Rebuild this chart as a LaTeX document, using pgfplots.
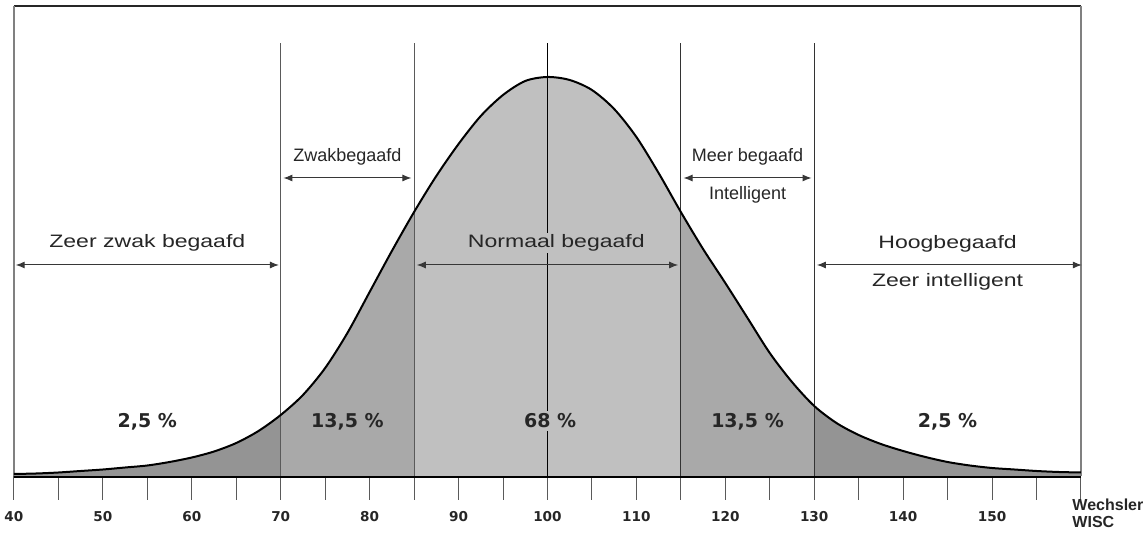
\documentclass[border=0pt]{standalone}
\usepackage{pgfplots}
\pgfplotsset{compat=1.18}
\usepackage{pgfplotstable}
\usepackage{graphicx}
\usetikzlibrary{arrows.meta}
\usepackage{fontspec}
\setmainfont{Liberation Sans}
\newfontfamily\numfont{DejaVu Sans}
\definecolor{tailgray}{RGB}{148,148,148}
\definecolor{midgray}{RGB}{169,169,169}
\definecolor{centergray}{RGB}{192,192,192}
\definecolor{linegray}{RGB}{90,90,90}
\definecolor{arrowgray}{RGB}{55,55,55}

\pgfplotstableread{
x h
40 2
42.5 2.5
45 3.5
47.5 5
50 6.5
52.5 8.5
55 10.5
57.5 14
60 18.5
62.5 24.5
65 33
67.5 45
70 61
72.5 81
75 108
77.5 143
80 184
82.5 225
85 264
87.5 300
90 332
92.5 360
95 381
97.5 395
100 399
102.5 396
105 386
107.5 367
110 339
112.5 303
115 264
117.5 227
120 193
122.5 158
125 123
127.5 94
130 70
132.5 53
135 41
137.5 32
140 25
142.5 19
145 14
147.5 10.5
150 8
152.5 6.5
155 5
157.5 4
160 3.5
}\curve

\begin{document}
\begin{tikzpicture}
\begin{axis}[
  x=4.44583pt, y=0.5pt,
  xmin=40, xmax=160, ymin=0, ymax=470,
  clip=false,
  axis y line=none,
  axis x line*=bottom,
  axis line style={line width=1.6pt, black, -},
  xtick={40,45,...,160},
  xticklabels={40,,50,,60,,70,,80,,90,,100,,110,,120,,130,,140,,150,,},
  tick align=outside,
  major tick length=12pt,
  xtick style={linegray, line width=0.5pt},
  xticklabel style={font=\numfont\bfseries\fontsize{6.8}{8}\selectfont, text=black!85, yshift=-2pt},
]
% filled regions
\addplot[fill=tailgray, draw=none, smooth, restrict x to domain=40:70] table[x=x,y=h] {\curve} \closedcycle;
\addplot[fill=midgray, draw=none, smooth, restrict x to domain=70:85] table[x=x,y=h] {\curve} \closedcycle;
\addplot[fill=centergray, draw=none, smooth, restrict x to domain=85:115] table[x=x,y=h] {\curve} \closedcycle;
\addplot[fill=midgray, draw=none, smooth, restrict x to domain=115:130] table[x=x,y=h] {\curve} \closedcycle;
\addplot[fill=tailgray, draw=none, smooth, restrict x to domain=130:160] table[x=x,y=h] {\curve} \closedcycle;

% frame
\draw[line width=0.6pt, black!85] (axis cs:40,470) -- (axis cs:160,470);
\draw[line width=0.6pt, gray] (axis cs:40,0) -- (axis cs:40,470);
\draw[line width=1pt, gray] (axis cs:160,0) -- (axis cs:160,470);

% vertical separators
\draw[line width=0.5pt, linegray] (axis cs:70,0) -- (axis cs:70,433);
\draw[line width=0.5pt, linegray] (axis cs:85,0) -- (axis cs:85,433);
\draw[line width=0.5pt, black] (axis cs:100,0) -- (axis cs:100,433);
\draw[line width=0.5pt, black!80] (axis cs:115,0) -- (axis cs:115,433);
\draw[line width=0.5pt, black!80] (axis cs:130,0) -- (axis cs:130,433);

% curve
\addplot[black, line width=1pt, smooth] table[x=x,y=h] {\curve};

% arrows
\tikzset{arr/.style={arrowgray, line width=0.5pt, {Latex[length=4.5pt,width=3.5pt]}-{Latex[length=4.5pt,width=3.5pt]}}}
\draw[arr] (axis cs:40.2,211) -- (axis cs:69.8,211);
\draw[arr] (axis cs:70.3,298) -- (axis cs:84.7,298);
\draw[arr] (axis cs:85.3,211) -- (axis cs:114.7,211);
\draw[arr] (axis cs:115.3,298) -- (axis cs:129.7,298);
\draw[arr] (axis cs:130.3,211) -- (axis cs:160.1,211);

% category labels
\tikzset{lab/.style={font=\fontsize{9}{10}\selectfont, text=black!85, inner sep=1pt}}
\newcommand{\wide}[1]{\scalebox{1.28}[1]{#1}}
\node[lab] at (axis cs:55,233) {\wide{Zeer zwak begaafd}};
\node[lab] at (axis cs:77.5,319) {Zwakbegaafd};
\node[lab, fill=centergray, inner xsep=0pt] at (axis cs:101,233) {\wide{Normaal begaafd}};
\node[lab] at (axis cs:122.5,319) {Meer begaafd};
\node[lab] at (axis cs:122.5,281) {Intelligent};
\node[lab] at (axis cs:145,232) {\wide{Hoogbegaafd}};
\node[lab] at (axis cs:145,194) {\wide{Zeer intelligent}};

% percentages
\tikzset{pct/.style={font=\numfont\bfseries\fontsize{9.5}{11}\selectfont, text=black!85, inner sep=1pt, anchor=base}}
\node[pct] at (axis cs:55,48) {2,5 \%};
\node[pct] at (axis cs:77.5,48) {13,5 \%};
\node[pct, fill=centergray, inner sep=1.5pt] at (axis cs:100.3,48) {68 \%};
\node[pct] at (axis cs:122.5,48) {13,5 \%};
\node[pct] at (axis cs:145,48) {2,5 \%};

% axis name
\node[anchor=north west, align=left, inner sep=0pt, font=\bfseries\fontsize{8}{8.5}\selectfont, text=black!85] at (axis cs:159,-23) {Wechsler\\WISC};

\coordinate (bbA) at (axis cs:38.43,-57);
\coordinate (bbB) at (axis cs:167.09,476);
\end{axis}
\pgfresetboundingbox
\useasboundingbox (bbA) rectangle (bbB);
\end{tikzpicture}
\end{document}
